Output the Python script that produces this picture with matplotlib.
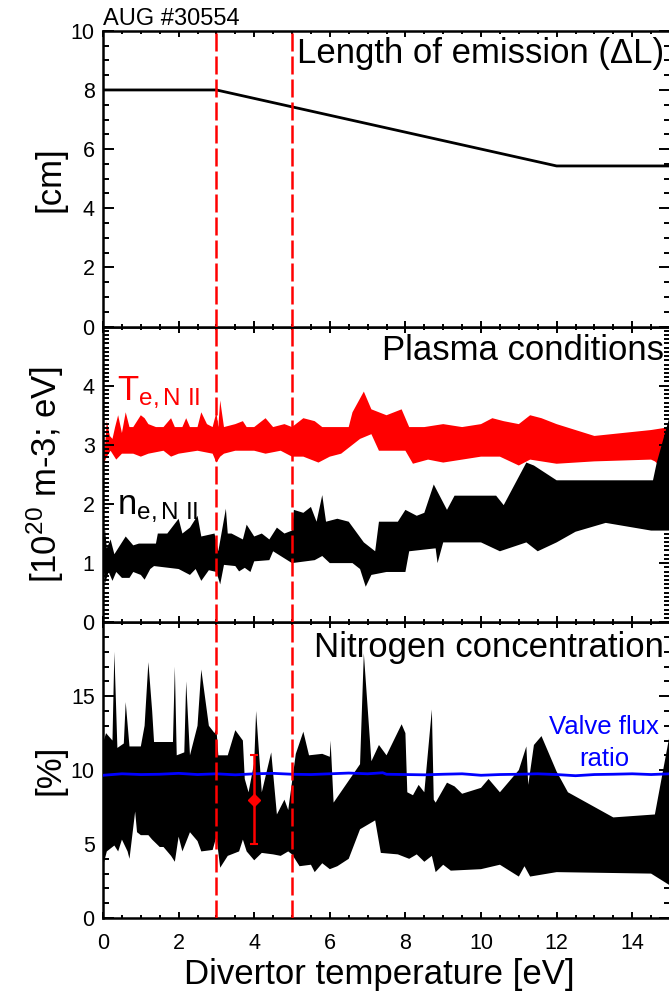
import numpy as np
import matplotlib
matplotlib.use("Agg")
import matplotlib.pyplot as plt
from matplotlib.ticker import MultipleLocator

plt.rcParams["font.family"] = ["Liberation Sans", "DejaVu Sans"]
plt.rcParams["mathtext.fontset"] = "custom"
plt.rcParams["mathtext.rm"] = "Liberation Sans"
plt.rcParams["mathtext.it"] = "Liberation Sans:italic"

# Length of emission (top panel)
length_x = [0.0, 3.0, 12.0, 15.0]
length_cm = [8.0, 8.0, 5.43, 5.43]

# Te band (red), upper and lower edges
te_up_x = [0.0, 0.05, 0.1, 0.18, 0.25, 0.32, 0.4, 0.5, 0.6, 0.7,
           0.8, 0.9, 1.0, 1.1, 1.2, 1.4, 1.6, 1.8, 1.9, 2.1,
           2.2, 2.3, 2.5, 2.6, 2.75, 2.9, 3.0, 3.05, 3.1, 3.2,
           3.5, 3.7, 3.8, 4.0, 4.3, 4.5, 4.8, 5.0, 5.3, 5.6,
           5.8, 6.0, 6.5, 6.6, 6.9, 7.1, 7.5, 7.9, 8.1, 8.5,
           9.0, 9.5, 10.0, 10.3, 10.6, 11.0, 11.3, 11.6, 12.0, 13.0,
           14.5, 15.0]
te_up = [3.35, 2.95, 3.4, 3.15, 3.1, 3.3, 3.5, 3.2, 3.55, 3.3,
         3.3, 3.4, 3.5, 3.45, 3.35, 3.3, 3.3, 3.45, 3.3, 3.3,
         3.45, 3.3, 3.3, 3.55, 3.35, 3.3, 3.55, 3.3, 3.75, 3.3,
         3.35, 3.4, 3.3, 3.3, 3.45, 3.3, 3.35, 3.3, 3.45, 3.4,
         3.3, 3.3, 3.3, 3.55, 3.9, 3.6, 3.5, 3.6, 3.3, 3.3,
         3.35, 3.3, 3.35, 3.45, 3.4, 3.35, 3.5, 3.45, 3.35, 3.15,
         3.25, 3.3]
te_lo_x = [0.0, 0.1, 0.2, 0.35, 0.5, 0.8, 1.0, 1.2, 1.6, 1.8,
           2.0, 2.5, 2.9, 3.0, 3.1, 3.2, 3.5, 4.0, 4.3, 4.7,
           5.0, 5.3, 5.7, 6.0, 6.3, 6.5, 6.8, 7.1, 7.3, 7.7,
           8.0, 8.2, 8.6, 9.0, 9.5, 10.0, 10.5, 11.0, 11.3, 12.0,
           13.0, 14.5, 14.6, 15.0]
te_lo = [2.65, 2.8, 2.9, 2.75, 2.85, 2.85, 2.8, 2.85, 2.9, 2.8,
         2.85, 2.9, 2.85, 2.7, 2.8, 2.85, 2.9, 2.9, 2.85, 2.9,
         2.8, 2.8, 2.7, 2.8, 2.85, 2.95, 3.1, 3.18, 2.9, 2.9,
         2.9, 2.68, 2.75, 2.7, 2.75, 2.8, 2.8, 2.65, 2.75, 2.68,
         2.72, 2.75, 2.72, 2.5]

# ne band (black)
ne_up_x = [0.0, 0.05, 0.1, 0.2, 0.3, 0.45, 0.6, 0.8, 0.95, 1.4,
           1.45, 1.7, 2.0, 2.1, 2.3, 2.5, 2.6, 2.95, 3.05, 3.25,
           3.3, 3.4, 3.7, 3.8, 4.0, 4.2, 4.4, 4.6, 4.8, 5.0,
           5.05, 5.3, 5.5, 5.65, 5.8, 5.9, 6.2, 6.5, 6.9, 7.2,
           7.3, 7.8, 8.0, 8.3, 8.5, 8.75, 9.1, 9.3, 10.4, 10.6,
           11.2, 11.4, 12.0, 14.55, 14.65, 15.0]
ne_up = [1.2, 1.6, 1.25, 1.4, 1.15, 1.3, 1.45, 1.3, 1.33, 1.33,
         1.5, 1.5, 1.75, 1.5, 1.6, 1.8, 1.45, 1.5, 1.2, 1.92,
         1.5, 1.5, 1.4, 1.65, 1.45, 1.5, 1.4, 1.6, 1.5, 1.55,
         1.9, 1.85, 1.95, 1.7, 2.15, 1.7, 1.75, 1.7, 1.35, 1.2,
         1.7, 1.7, 1.9, 1.8, 1.85, 2.33, 1.9, 2.14, 2.14, 1.98,
         2.7, 2.65, 2.4, 2.4, 2.7, 3.5]
ne_lo_x = [0.0, 0.05, 0.15, 0.25, 0.35, 0.5, 0.7, 0.8, 1.0, 1.1,
           1.25, 1.35, 2.0, 2.3, 2.45, 2.6, 2.8, 3.0, 3.1, 3.2,
           3.5, 3.6, 3.75, 3.9, 4.0, 4.4, 4.5, 5.0, 5.6, 5.8,
           6.0, 6.6, 6.8, 6.95, 7.1, 7.5, 8.0, 8.1, 8.8, 8.85,
           9.0, 10.0, 10.5, 11.2, 11.5, 12.0, 12.5, 13.3, 14.5, 15.0]
ne_lo = [1.1, 0.65, 0.85, 0.7, 0.85, 0.75, 0.75, 0.85, 0.8, 0.72,
         0.9, 0.95, 0.9, 0.8, 0.9, 0.7, 0.88, 0.85, 0.64, 0.97,
         0.95, 0.86, 0.92, 0.85, 1.03, 1.05, 1.2, 1.0, 1.05, 1.12,
         1.0, 1.0, 0.9, 0.6, 0.8, 0.85, 0.85, 1.2, 1.25, 1.0,
         1.35, 1.35, 1.2, 1.35, 1.2, 1.35, 1.53, 1.68, 1.55, 1.55]

# Nitrogen concentration band (black)
cn_up_x = [0.0, 0.02, 0.08, 0.25, 0.3, 0.38, 0.55, 0.6, 0.7, 1.0,
           1.1, 1.2, 1.3, 1.35, 1.85, 1.9, 1.95, 2.15, 2.2, 2.3,
           2.5, 2.6, 2.8, 2.95, 3.0, 3.05, 3.3, 3.5, 3.7, 3.75,
           3.85, 4.0, 4.05, 4.2, 4.45, 4.6, 4.8, 4.9, 5.1, 5.3,
           5.45, 5.8, 6.0, 6.02, 6.1, 6.8, 6.9, 7.1, 7.3, 7.5,
           7.9, 8.0, 8.05, 8.2, 8.35, 8.5, 8.7, 8.75, 8.8, 9.1,
           9.3, 9.5, 10.0, 10.2, 10.5, 11.0, 11.2, 11.25, 11.4, 11.6,
           12.0, 12.3, 13.5, 14.6, 15.0]
cn_up = [19.0, 12.0, 12.5, 12.0, 18.0, 11.5, 11.8, 14.6, 11.6, 11.6,
         13.0, 17.3, 14.0, 11.9, 11.9, 17.0, 11.0, 11.2, 16.0, 11.0,
         13.0, 16.8, 13.0, 12.5, 12.8, 11.0, 11.0, 12.7, 12.0, 9.4,
         8.5, 10.5, 14.0, 8.5, 11.2, 7.0, 8.0, 7.3, 11.1, 12.6,
         11.0, 11.1, 10.9, 12.0, 7.8, 10.4, 17.9, 10.6, 11.7, 11.0,
         13.1, 12.5, 8.5, 8.3, 9.0, 8.5, 14.1, 8.0, 7.8, 9.15,
         8.9, 8.4, 8.8, 9.4, 8.5, 10.0, 11.6, 9.0, 11.7, 12.3,
         9.9, 8.5, 6.8, 7.0, 12.5]
cn_lo_x = [0.0, 0.1, 0.3, 0.4, 0.5, 0.65, 0.7, 0.85, 0.9, 1.0,
           1.2, 1.3, 1.5, 1.6, 1.8, 1.9, 2.0, 2.1, 2.3, 2.5,
           2.6, 2.9, 3.0, 3.1, 3.3, 3.6, 3.7, 3.8, 4.0, 4.2,
           4.5, 4.7, 4.9, 5.0, 5.2, 5.5, 5.6, 5.8, 6.0, 6.2,
           6.5, 6.8, 7.2, 7.35, 7.8, 8.1, 8.3, 8.5, 8.7, 8.8,
           9.0, 9.2, 10.0, 10.5, 11.0, 11.15, 11.3, 12.0, 14.5, 15.0]
cn_lo = [3.5, 4.5, 4.9, 4.5, 5.3, 4.5, 4.0, 7.2, 5.8, 5.6,
         5.6, 5.3, 4.8, 4.8, 4.2, 3.8, 5.5, 4.5, 5.8, 5.2,
         4.5, 4.6, 5.5, 3.4, 4.2, 4.5, 5.3, 4.5, 3.9, 4.4,
         4.3, 4.2, 4.5, 4.3, 3.5, 3.6, 3.1, 3.7, 3.3, 3.5,
         4.0, 6.0, 6.6, 4.4, 4.3, 4.0, 4.3, 3.8, 4.2, 3.1,
         3.6, 3.2, 3.3, 3.6, 2.8, 3.5, 2.8, 3.1, 3.0, 2.2]

# Valve flux ratio (blue line)
valve_x = [0.0, 0.5, 1.0, 1.5, 2.0, 2.5, 3.0, 3.5, 4.0, 4.5,
           5.0, 5.5, 6.0, 6.5, 7.0, 7.4, 7.5, 8.0, 8.5, 9.0,
           9.5, 10.0, 10.5, 11.0, 11.5, 12.0, 12.5, 13.0, 13.5, 14.0,
           14.5, 15.0]
valve = [9.65, 9.75, 9.7, 9.72, 9.78, 9.7, 9.75, 9.68, 9.75, 9.78,
         9.72, 9.7, 9.75, 9.8, 9.75, 9.82, 9.72, 9.7, 9.68, 9.72,
         9.75, 9.65, 9.7, 9.72, 9.75, 9.7, 9.62, 9.7, 9.72, 9.75,
         9.7, 9.75]

# single calibration point with error bar
cal_x, cal_y, cal_lo, cal_hi = 4.0, 8.0, 5.0, 11.0

dashed_x = [3.0, 5.0]


def band(ax, xu, yu, xl, yl, color):
    xs = np.r_[xu, xl[::-1]]
    ys = np.r_[yu, yl[::-1]]
    ax.fill(xs, ys, color=color, lw=0)


def style(ax, yticks, yminor, ymax):
    ax.set_xlim(0, 15)
    ax.set_ylim(0, ymax)
    ax.xaxis.set_major_locator(MultipleLocator(2))
    ax.xaxis.set_minor_locator(MultipleLocator(0.5))
    ax.set_yticks(yticks)
    ax.yaxis.set_minor_locator(MultipleLocator(yminor))
    ax.tick_params(which="both", direction="in", top=True, right=True,
                   width=1.4, labelsize=15.5)
    ax.tick_params(axis="y", which="major", length=8, pad=6)
    ax.tick_params(axis="y", which="minor", length=4)
    ax.tick_params(axis="x", which="major", length=4.3, pad=11)
    ax.tick_params(axis="x", which="minor", length=2.2)
    for s in ax.spines.values():
        s.set_linewidth(1.8)
    for xv in dashed_x:
        ax.axvline(xv, color="red", lw=1.8, dashes=(7.2, 2.0), zorder=4)
    ax.yaxis.set_label_coords(-0.065, 0.5)


fig = plt.figure(figsize=(6.69, 9.94), dpi=100)
left, width, h, b0 = 0.154, 0.8475, 0.2975, 0.0765
ax3 = fig.add_axes([left, b0, width, h])
ax2 = fig.add_axes([left, b0 + h, width, h])
ax1 = fig.add_axes([left, b0 + 2 * h, width, h])

# Top panel
ax1.plot(length_x, length_cm, color="black", lw=2.0)
style(ax1, [0, 2, 4, 6, 8, 10], 0.5, 10)
ax1.tick_params(axis="x", labelbottom=False)
ax1.set_ylabel("[cm]", fontsize=25)
ax1.text(0.989, 0.891, "Length of emission (\u0394L)", transform=ax1.transAxes,
         ha="right", va="baseline", fontsize=25)
fig.text(left, 0.9745, "AUG #30554", ha="left", va="baseline", fontsize=17)

# Middle panel
band(ax2, te_up_x, te_up, te_lo_x, te_lo, "red")
band(ax2, ne_up_x, ne_up, ne_lo_x, ne_lo, "black")
style(ax2, [0, 1, 2, 3, 4], 1 / 14, 5)
ax2.tick_params(axis="x", labelbottom=False)
ax2.set_ylabel(r"[10$^{\mathregular{20}}$ m-3; eV]", fontsize=25)
ax2.text(0.989, 0.888, "Plasma conditions", transform=ax2.transAxes,
         ha="right", va="baseline", fontsize=25)
ax2.text(0.38, 3.75, r"$\mathregular{T_{e,N\ II}}$", color="red",
         fontsize=25, ha="left", va="baseline")
ax2.text(0.36, 1.83, r"$\mathregular{n_{e,N\ II}}$", color="black",
         fontsize=25, ha="left", va="baseline")

# Bottom panel
band(ax3, cn_up_x, cn_up, cn_lo_x, cn_lo, "black")
ax3.plot(valve_x, valve, color="blue", lw=2.0, zorder=3)
ax3.errorbar([cal_x], [cal_y], yerr=[[cal_y - cal_lo], [cal_hi - cal_y]],
             fmt="D", color="red", ms=6, elinewidth=1.8, capsize=3,
             capthick=1.5, zorder=5)
style(ax3, [0, 5, 10, 15], 1, 20)
ax3.set_ylabel("[%]", fontsize=25)
ax3.set_xlabel("Divertor temperature [eV]", fontsize=25)
ax3.xaxis.set_label_coords(0.488, -0.135)
ax3.text(0.989, 0.882, "Nitrogen concentration", transform=ax3.transAxes,
         ha="right", va="baseline", fontsize=25)
ax3.text(13.25, 12.45, "Valve flux", color="blue", fontsize=18.5,
         ha="center", va="baseline")
ax3.text(13.25, 10.3, "ratio", color="blue", fontsize=18.5,
         ha="center", va="baseline")

fig.savefig("out.png", dpi=100)
